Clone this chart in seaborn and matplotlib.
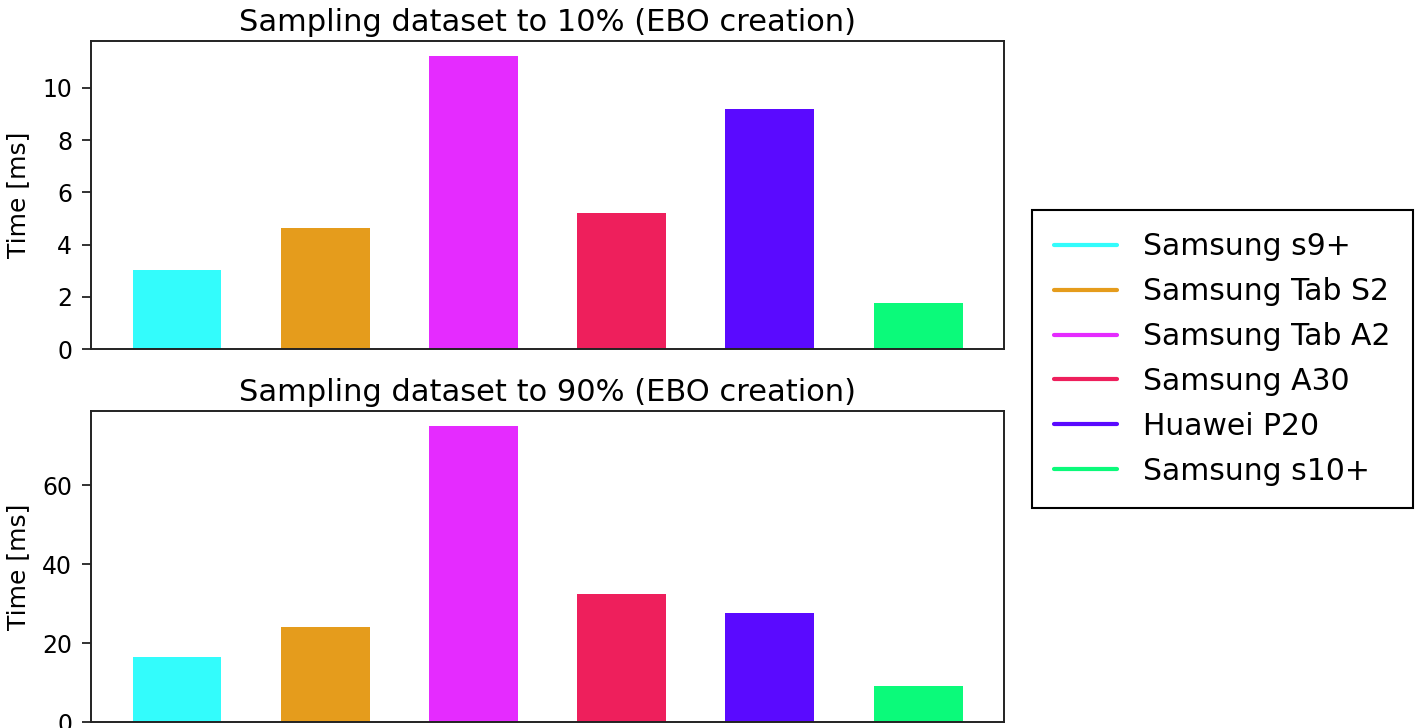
import matplotlib
matplotlib.use("Agg")
import matplotlib.pyplot as plt
from matplotlib.lines import Line2D
import seaborn as sns
import pandas as pd

devices = ["Samsung s9+", "Samsung Tab S2", "Samsung Tab A2", "Samsung A30", "Huawei P20", "Samsung s10+"]
time_10 = [3.02, 4.62, 11.23, 5.2, 9.2, 1.75]
time_90 = [16.4, 24.0, 75.0, 32.3, 27.7, 9.0]
colors = ["#33fcfc", "#e59c1c", "#e52bff", "#ee1f5c", "#5a0aff", "#0bfa7a"]
titles = ["Sampling dataset to 10% (EBO creation)", "Sampling dataset to 90% (EBO creation)"]
ylabel = "Time [ms]"

sns.set_style("white")
plt.rcParams["font.family"] = ["DejaVu Sans"]
plt.rcParams["text.color"] = "black"
plt.rcParams["axes.labelcolor"] = "black"
plt.rcParams["ytick.color"] = "black"

fig = plt.figure(figsize=(14.16, 7.28), dpi=100)
W, H = 1416, 728
ax1 = fig.add_axes([91 / W, 1 - 349 / H, (1004 - 91) / W, (349 - 41) / H])
ax2 = fig.add_axes([91 / W, 1 - 722 / H, (1004 - 91) / W, (722 - 411) / H])

palette = dict(zip(devices, colors))
for ax, vals, title in [(ax1, time_10, titles[0]), (ax2, time_90, titles[1])]:
    df = pd.DataFrame({"device": devices, "time": vals})
    sns.barplot(data=df, x="device", y="time", hue="device", palette=palette,
                order=devices, hue_order=devices, width=0.6, saturation=1,
                legend=False, ax=ax, linewidth=0)
    ax.set_xlim(-0.58, len(devices) - 1 + 0.58)
    ax.set_ylim(0, max(vals) * 1.05)
    ax.set_xticks([])
    ax.set_xlabel("")
    ax.set_ylabel(ylabel, fontsize=18, color="black", labelpad=9)
    ax.set_title(title, fontsize=22, pad=7, color="black")
    ax.tick_params(axis="y", labelsize=17, length=6.5, width=1.3, pad=7, direction="out",
                   left=True, color="#222222", labelcolor="black")
    for s in ax.spines.values():
        s.set_visible(True)
        s.set_color("#222222")
        s.set_linewidth(1.4)

ax1.set_yticks([0, 2, 4, 6, 8, 10])
ax2.set_yticks([0, 20, 40, 60])

handles = [Line2D([0], [0], color=c, lw=3) for c in colors]
leg = fig.legend(handles, devices, loc="upper left", bbox_to_anchor=(1031.5 / W, 1 - 210 / H),
                 borderaxespad=0, fontsize=21.5, fancybox=False, frameon=True,
                 handlelength=2.1, labelspacing=0.53, borderpad=0.75, handletextpad=0.9)
leg.get_frame().set_edgecolor("black")
leg.get_frame().set_linewidth(1.5)
leg.get_frame().set_alpha(1)
for t in leg.get_texts():
    t.set_color("black")

fig.savefig("out.png", dpi=100, facecolor="white")
